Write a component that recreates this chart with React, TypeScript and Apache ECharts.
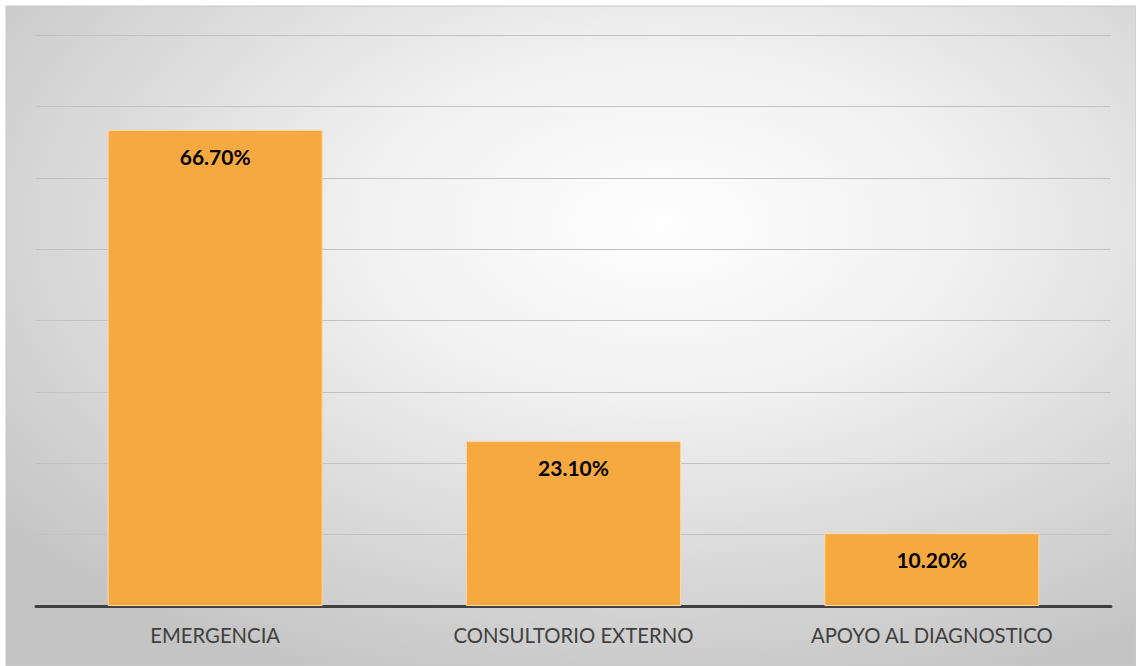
import React, { useEffect, useRef } from "react";
import * as echarts from "echarts";

const categories = ["EMERGENCIA", "CONSULTORIO EXTERNO", "APOYO AL DIAGNOSTICO"];
const values = [66.7, 23.1, 10.2];

export default function App() {
  const ref = useRef<HTMLDivElement>(null);
  useEffect(() => {
    const chart = echarts.init(ref.current!, null, { renderer: "svg" });
    chart.setOption({
      animation: false,
      graphic: [
        {
          type: "rect",
          z: -10,
          silent: true,
          shape: { x: 6, y: 6, width: 1130, height: 660 },
          style: {
            fill: new echarts.graphic.RadialGradient(0.58, 0.33, 0.75, [
              { offset: 0, color: "#fefefe" },
              { offset: 0.35, color: "#f1f1f1" },
              { offset: 1, color: "#c4c4c4" },
            ]),
            stroke: "#c8c8c8",
            lineWidth: 1,
          },
        },
      ],
      grid: { left: 36, right: 25, top: 35, bottom: 60, containLabel: false },
      xAxis: {
        type: "category",
        data: categories,
        axisLine: { show: true, lineStyle: { color: "#404040", width: 3 } },
        axisTick: { show: false },
        axisLabel: {
          color: "#404040",
          fontFamily: "Lato, sans-serif",
          fontSize: 20.3,
          margin: 19,
        },
      },
      yAxis: {
        type: "value",
        min: 0,
        max: 80,
        interval: 10,
        axisLine: { show: false },
        axisTick: { show: false },
        axisLabel: { show: false },
        splitLine: { show: true, lineStyle: { color: "#c2c2c2", width: 1 } },
      },
      series: [
        {
          type: "bar",
          data: values,
          barWidth: "60%",
          itemStyle: { color: "#f7a941", borderColor: "#fcd7a0", borderWidth: 1 },
          label: {
            show: true,
            position: "insideTop",
            distance: 16,
            formatter: (p: any) => p.value.toFixed(2) + "%",
            color: "#000",
            fontWeight: "bold",
            fontSize: 21,
            fontFamily: "Lato, sans-serif",
          },
        },
      ],
    });
    return () => chart.dispose();
  }, []);
  return (
    <div
      ref={ref}
      style={{ position: "fixed", left: 0, top: 0, width: 1136, height: 666, background: "#fff" }}
    />
  );
}
